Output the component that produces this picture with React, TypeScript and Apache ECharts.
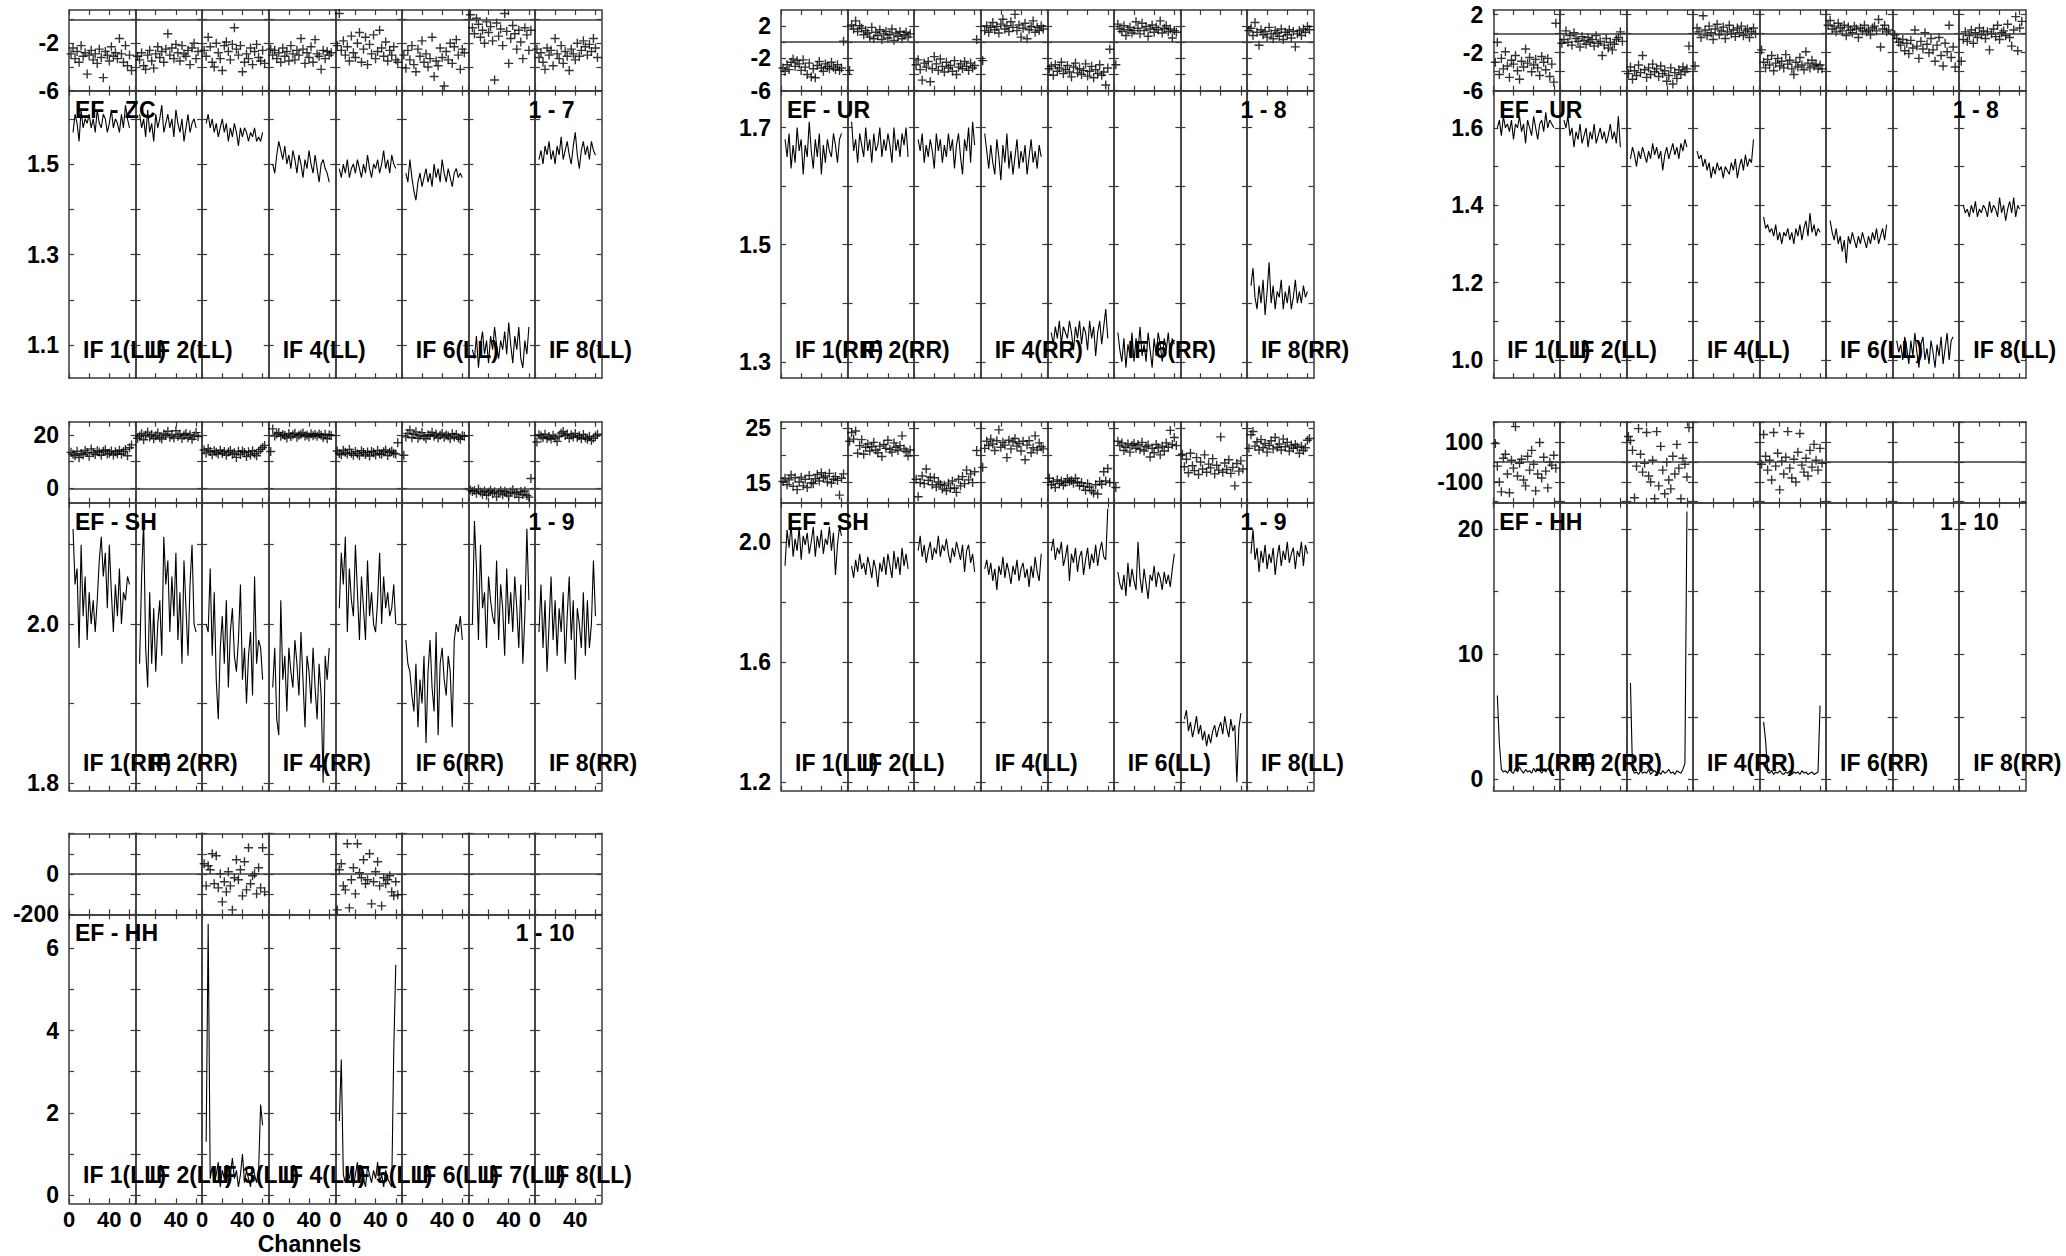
import React, { useEffect, useRef } from "react";
import * as echarts from "echarts";

// ---------------- channels & ticks ----------------
const ampChannels = [4, 6, 8, 10, 12, 14, 16, 18, 20, 22, 24, 26, 28, 30, 32, 34, 36, 38, 40, 42, 44, 46, 48, 50, 52, 54, 56, 58, 60];
const phaseChannels = [2, 4, 6, 8, 10, 12, 14, 16, 18, 20, 22, 24, 26, 28, 30, 32, 34, 36, 38, 40, 42, 44, 46, 48, 50, 52, 54, 56, 58, 60, 62];
const channelTicks = [0, 20, 40, 60];
const channelLabels = [0, 40];

const zcAmpTicks = [1.1, 1.2, 1.3, 1.4, 1.5, 1.6];
const zcAmpLabels = [1.1, 1.3, 1.5];
const zcPhaseTicks = [-6, -4, -2, 0];
const zcPhaseLabels = [-6, -2];
const urAAmpTicks = [1.3, 1.4, 1.5, 1.6, 1.7];
const urAAmpLabels = [1.3, 1.5, 1.7];
const urPhaseTicks = [-6, -4, -2, 0, 2];
const urPhaseLabels = [-6, -2, 2];
const urBAmpTicks = [1.0, 1.1, 1.2, 1.3, 1.4, 1.5, 1.6];
const urBAmpLabels = [1.0, 1.2, 1.4, 1.6];
const shAAmpTicks = [1.8, 1.9, 2.0, 2.1];
const shAAmpLabels = [1.8, 2.0];
const shAPhaseTicks = [0, 10, 20];
const shAPhaseLabels = [0, 20];
const shBAmpTicks = [1.2, 1.4, 1.6, 1.8, 2.0];
const shBAmpLabels = [1.2, 1.6, 2.0];
const shBPhaseTicks = [15, 20, 25];
const shBPhaseLabels = [15, 25];
const hhAAmpTicks = [0, 5, 10, 15, 20];
const hhAAmpLabels = [0, 10, 20];
const hhPhaseTicks = [-200, -100, 0, 100, 200];
const hhAPhaseLabels = [-100, 100];
const hhBPhaseLabels = [-200, 0];
const hhBAmpTicks = [0, 1, 2, 3, 4, 5, 6];
const hhBAmpLabels = [0, 2, 4, 6];

// ---------------- EF - ZC (1 - 7), LL ----------------
const zcAmp = [
  [1.57, 1.61, 1.59, 1.55, 1.62, 1.58, 1.60, 1.59, 1.61, 1.58, 1.60, 1.57, 1.62, 1.59, 1.58, 1.61, 1.60, 1.57, 1.59, 1.62, 1.58, 1.60, 1.59, 1.57, 1.61, 1.58, 1.63, 1.60, 1.58],
  [1.61, 1.58, 1.60, 1.56, 1.62, 1.57, 1.59, 1.55, 1.61, 1.58, 1.60, 1.63, 1.57, 1.59, 1.61, 1.58, 1.60, 1.56, 1.62, 1.59, 1.57, 1.60, 1.55, 1.58, 1.61, 1.57, 1.59, 1.60, 1.58],
  [1.59, 1.61, 1.58, 1.60, 1.57, 1.59, 1.56, 1.58, 1.60, 1.57, 1.59, 1.55, 1.58, 1.56, 1.59, 1.57, 1.54, 1.58, 1.56, 1.58, 1.57, 1.55, 1.57, 1.56, 1.58, 1.55, 1.56, 1.55, 1.57],
  [1.50, 1.48, 1.52, 1.55, 1.53, 1.51, 1.54, 1.50, 1.52, 1.49, 1.53, 1.51, 1.48, 1.52, 1.50, 1.47, 1.51, 1.49, 1.53, 1.50, 1.48, 1.52, 1.49, 1.46, 1.50, 1.51, 1.49, 1.48, 1.46],
  [1.49, 1.47, 1.50, 1.48, 1.51, 1.47, 1.49, 1.50, 1.48, 1.51, 1.49, 1.47, 1.50, 1.48, 1.52, 1.49, 1.47, 1.50, 1.49, 1.51, 1.48, 1.50, 1.53, 1.49, 1.51, 1.48, 1.52, 1.50, 1.49],
  [1.48, 1.46, 1.51, 1.47, 1.44, 1.42, 1.46, 1.48, 1.45, 1.47, 1.49, 1.46, 1.48, 1.45, 1.50, 1.47, 1.49, 1.46, 1.51, 1.48, 1.46, 1.49, 1.47, 1.45, 1.48, 1.49, 1.47, 1.48, 1.47],
  [1.09, 1.07, 1.12, 1.05, 1.10, 1.13, 1.08, 1.11, 1.06, 1.12, 1.09, 1.14, 1.10, 1.07, 1.11, 1.09, 1.13, 1.08, 1.15, 1.10, 1.06, 1.12, 1.09, 1.14, 1.07, 1.05, 1.11, 1.08, 1.14],
  [1.51, 1.53, 1.50, 1.54, 1.52, 1.55, 1.51, 1.53, 1.50, 1.54, 1.52, 1.56, 1.51, 1.53, 1.55, 1.52, 1.50, 1.54, 1.57, 1.52, 1.49, 1.53, 1.55, 1.52, 1.54, 1.51, 1.55, 1.53, 1.52],
];
const zcPhase = [
  [-2.9, -2.4, -3.3, -2.7, -3.6, -2.2, -3.1, -2.8, -4.6, -3.0, -2.6, -3.4, -2.9, -3.7, -2.5, -3.2, -4.9, -2.7, -3.0, -3.5, -2.3, -3.1, -2.8, -3.3, -1.6, -2.9, -3.6, -2.2, -3.9, -3.0, -4.3],
  [-3.1, -3.4, -2.8, -3.9, -4.2, -3.0, -2.6, -3.5, -4.1, -2.9, -2.3, -3.2, -2.7, -3.6, -2.5, -1.2, -3.0, -2.4, -3.3, -2.1, -2.8, -3.5, -2.2, -2.9, -3.1, -2.6, -3.8, -2.4, -2.0, -3.3, -2.7],
  [-2.6, -3.1, -1.5, -2.3, -3.6, -4.0, -2.0, -2.8, -3.3, -4.3, -2.2, -1.9, -2.7, -3.4, -2.1, -0.7, -2.5, -3.0, -2.2, -4.4, -3.6, -2.9, -3.3, -2.4, -3.8, -2.7, -2.1, -3.2, -3.5, -2.6, -3.7],
  [-2.5, -3.0, -2.6, -3.3, -2.8, -3.6, -2.4, -3.1, -2.7, -3.5, -2.2, -2.9, -3.4, -2.6, -3.0, -1.6, -2.5, -3.7, -2.8, -3.2, -2.3, -3.6, -1.7, -2.9, -3.1, -4.2, -2.6, -3.3, -2.7, -3.0, -2.8],
  [-2.2, 0.5, -2.6, -1.8, -3.0, -2.3, -3.5, -1.4, -2.8, -3.2, -2.0, -1.1, -3.6, -2.5, -1.5, -3.8, -2.1, -2.9, -1.3, -3.3, -2.7, -0.9, -2.4, -3.1, -1.9, -3.5, -2.6, -3.0, -2.3, -3.4, -3.6],
  [-3.0, -4.1, -2.6, -3.4, -2.2, -3.8, -4.4, -2.5, -3.1, -1.8, -3.6, -2.9, -4.0, -3.3, -1.5, -4.8, -3.5, -3.9, -2.4, -3.2, -5.6, -2.7, -3.4, -2.0, -3.7, -2.3, -1.7, -3.0, -4.2, -2.5, -2.8],
  [0.4, -0.7, -1.2, 0.1, -0.4, -1.5, -0.9, -2.0, -0.2, -1.1, -0.6, -1.8, -5.1, -0.3, -1.4, -0.8, -2.2, 0.5, -1.0, -3.7, -1.6, -0.5, -1.2, -2.5, -0.9, -1.9, -3.3, -0.7, -1.3, -2.6, -0.9],
  [-2.5, -3.2, -2.8, -3.6, -4.2, -2.4, -3.0, -2.6, -3.9, -1.6, -2.9, -3.3, -2.2, -3.7, -2.7, -3.1, -4.3, -2.5, -2.9, -3.4, -2.0, -3.1, -2.6, -1.8, -2.3, -3.0, -2.1, -2.7, -1.6, -2.4, -3.2],
];

// ---------------- EF - UR (1 - 8), RR ----------------
const urAAmp = [
  [1.68, 1.65, 1.69, 1.63, 1.67, 1.64, 1.70, 1.66, 1.68, 1.62, 1.67, 1.65, 1.71, 1.66, 1.63, 1.68, 1.65, 1.69, 1.62, 1.67, 1.64, 1.68, 1.66, 1.65, 1.69, 1.67, 1.64, 1.68, 1.69],
  [1.71, 1.66, 1.68, 1.64, 1.69, 1.67, 1.65, 1.70, 1.66, 1.68, 1.64, 1.69, 1.66, 1.67, 1.70, 1.65, 1.68, 1.66, 1.69, 1.67, 1.64, 1.70, 1.66, 1.68, 1.65, 1.69, 1.67, 1.70, 1.65],
  [1.68, 1.66, 1.69, 1.64, 1.67, 1.65, 1.68, 1.66, 1.63, 1.69, 1.66, 1.68, 1.64, 1.67, 1.65, 1.69, 1.66, 1.68, 1.63, 1.67, 1.69, 1.65, 1.62, 1.68, 1.66, 1.70, 1.64, 1.71, 1.67],
  [1.69, 1.66, 1.63, 1.67, 1.64, 1.62, 1.68, 1.65, 1.61, 1.67, 1.64, 1.69, 1.63, 1.66, 1.62, 1.65, 1.68, 1.63, 1.66, 1.64, 1.67, 1.62, 1.65, 1.68, 1.64, 1.66, 1.63, 1.67, 1.65],
  [1.35, 1.33, 1.36, 1.34, 1.37, 1.33, 1.36, 1.35, 1.34, 1.37, 1.35, 1.32, 1.36, 1.34, 1.37, 1.33, 1.36, 1.35, 1.32, 1.37, 1.34, 1.36, 1.31, 1.35, 1.37, 1.33, 1.36, 1.39, 1.34],
  [1.35, 1.32, 1.30, 1.34, 1.29, 1.33, 1.31, 1.35, 1.30, 1.34, 1.32, 1.36, 1.31, 1.33, 1.30, 1.35, 1.32, 1.29, 1.34, 1.31, 1.35, 1.33, 1.30, 1.34, 1.32, 1.35, 1.31, 1.34, 1.33],
  [],
  [1.43, 1.46, 1.41, 1.39, 1.43, 1.40, 1.44, 1.38, 1.42, 1.47, 1.40, 1.43, 1.39, 1.42, 1.41, 1.44, 1.39, 1.42, 1.40, 1.43, 1.39, 1.41, 1.44, 1.40, 1.42, 1.40, 1.43, 1.41, 1.42],
];
const urAPhase = [
  [-3.2, -3.6, -2.8, -3.4, -2.5, -2.1, -3.0, -2.3, -2.7, -3.5, -2.2, -3.1, -4.0, -2.6, -4.3, -3.3, -4.4, -2.9, -2.4, -3.2, -3.6, -2.7, -3.0, -3.3, -2.5, -3.1, -3.4, -2.8, -3.5, -3.2, 0.1],
  [-3.5, 2.1, 1.6, 2.6, 1.3, 2.0, 1.7, 0.9, 1.4, 1.1, 0.6, 1.8, 0.4, 1.2, 0.8, 1.5, 0.3, 1.0, 1.3, 0.5, 0.9, 1.6, 0.2, 1.1, 0.7, 1.3, 0.4, 0.9, 1.2, 0.6, 1.0],
  [-2.8, -2.2, -3.4, -4.7, -2.6, -3.1, -2.4, -4.9, -3.3, -1.8, -2.7, -3.5, -2.1, -3.0, -3.7, -2.5, -3.2, -2.9, -3.6, -2.3, -4.0, -3.1, -2.7, -3.3, -2.4, -3.0, -3.5, -2.6, -3.2, -2.9, 0.3],
  [-2.3, 1.4, 2.0, 1.2, 1.8, 2.4, 1.5, 1.9, 1.1, 2.2, 2.8, 1.6, 2.0, 1.3, 2.5, 1.8, 3.4, 1.4, 2.1, 0.6, 1.7, 2.3, 0.4, 1.5, 1.9, 2.6, 1.2, 1.8, 1.4, 2.0, 1.6],
  [-3.3, -3.0, -4.1, -2.8, -3.6, -3.2, -2.5, -3.9, -3.4, -2.9, -3.7, -4.3, -3.1, -2.6, -3.8, -3.3, -4.0, -3.5, -2.7, -4.2, -3.6, -3.0, -4.4, -3.4, -3.9, -2.8, -4.1, -3.7, -5.3, -3.2, -0.9],
  [-2.8, 2.2, 1.6, 1.3, 2.0, 0.8, 1.5, 1.8, 1.1, 1.4, 2.5, 1.7, 1.0, 2.3, 1.4, 1.9, 0.7, 1.6, 2.1, 1.2, 1.8, 1.5, 2.6, 1.1, 1.7, 2.0, 1.3, 1.6, 0.5, 1.4, 1.2],
  [],
  [1.4, 1.7, 0.8, 2.4, 1.2, -0.4, 1.5, 0.9, 1.3, 0.6, 1.8, 1.0, 0.4, 1.4, 1.1, 0.7, 1.6, 0.3, 1.2, 0.9, 1.5, 0.5, 1.3, -0.6, 1.0, 1.4, 0.8, 1.6, 1.2, 1.9, 1.5],
];

// ---------------- EF - UR (1 - 8), LL ----------------
const urBAmp = [
  [1.60, 1.62, 1.58, 1.63, 1.60, 1.61, 1.59, 1.62, 1.57, 1.61, 1.60, 1.63, 1.59, 1.61, 1.56, 1.62, 1.60, 1.58, 1.63, 1.60, 1.57, 1.61, 1.62, 1.59, 1.64, 1.60, 1.62, 1.61, 1.60],
  [1.62, 1.60, 1.63, 1.58, 1.60, 1.55, 1.59, 1.57, 1.61, 1.56, 1.58, 1.60, 1.55, 1.59, 1.57, 1.61, 1.56, 1.58, 1.60, 1.57, 1.59, 1.56, 1.58, 1.61, 1.57, 1.59, 1.56, 1.63, 1.55],
  [1.52, 1.55, 1.53, 1.50, 1.54, 1.52, 1.55, 1.53, 1.51, 1.54, 1.52, 1.56, 1.53, 1.55, 1.52, 1.54, 1.49, 1.53, 1.55, 1.52, 1.54, 1.56, 1.53, 1.55, 1.52, 1.56, 1.54, 1.57, 1.55],
  [1.54, 1.52, 1.53, 1.50, 1.52, 1.49, 1.51, 1.47, 1.50, 1.48, 1.51, 1.49, 1.50, 1.47, 1.50, 1.49, 1.48, 1.51, 1.49, 1.52, 1.47, 1.50, 1.52, 1.49, 1.53, 1.50, 1.52, 1.51, 1.57],
  [1.37, 1.34, 1.35, 1.33, 1.34, 1.32, 1.35, 1.31, 1.33, 1.30, 1.33, 1.32, 1.34, 1.31, 1.33, 1.30, 1.34, 1.32, 1.35, 1.31, 1.34, 1.36, 1.32, 1.38, 1.33, 1.35, 1.32, 1.34, 1.33],
  [1.36, 1.33, 1.31, 1.34, 1.30, 1.32, 1.28, 1.31, 1.25, 1.32, 1.30, 1.33, 1.31, 1.29, 1.32, 1.30, 1.33, 1.31, 1.29, 1.32, 1.30, 1.33, 1.31, 1.34, 1.30, 1.32, 1.34, 1.31, 1.35],
  [1.05, 1.02, 1.04, 1.00, 1.06, 1.03, 0.99, 1.05, 1.01, 1.07, 1.02, 0.98, 1.04, 1.06, 1.00, 1.03, 0.99, 1.05, 1.02, 0.98, 1.04, 1.01, 1.06, 0.99, 1.03, 1.07, 1.00, 1.05, 1.06],
  [1.40, 1.38, 1.39, 1.37, 1.40, 1.38, 1.41, 1.37, 1.39, 1.38, 1.40, 1.39, 1.37, 1.41, 1.38, 1.40, 1.39, 1.37, 1.42, 1.38, 1.40, 1.36, 1.39, 1.41, 1.38, 1.42, 1.37, 1.40, 1.39],
];
const urBPhase = [
  [-3.0, -0.9, -4.3, -2.6, -3.7, -1.9, -3.4, -4.6, -2.8, -3.2, -2.3, -3.9, -4.8, -2.9, -3.5, -1.6, -3.1, -2.5, -4.0, -3.3, -2.7, -3.6, -4.4, -2.4, -3.0, -3.8, -2.6, -4.5, -3.2, -5.1, 1.1],
  [-1.0, -0.6, 0.3, -0.9, -0.2, -1.2, 0.1, -0.5, -0.8, -1.4, -0.3, -0.7, -1.1, -0.4, -0.9, -0.6, -1.3, -0.2, -1.0, -0.8, -2.3, -1.2, -0.5, -1.5, -0.9, -1.7, -1.1, -0.6, -0.4, 0.2, -0.8],
  [-4.2, -3.5, -4.8, -3.9, -4.4, -3.3, -4.1, -2.3, -3.8, -4.6, -3.6, -4.3, -3.2, -4.0, -3.7, -4.5, -3.4, -4.2, -3.9, -5.0, -4.4, -3.6, -5.3, -4.1, -4.7, -3.8, -4.3, -3.5, -4.0, -3.7, -1.3],
  [-3.4, 0.6, 0.2, -0.4, 1.9, 0.4, -0.2, 0.8, 0.1, -0.6, 0.5, 1.0, -0.1, 0.3, 0.7, -0.5, 0.2, 0.9, 0.0, 0.4, -0.3, 0.6, 0.1, 0.8, -0.2, 0.3, 0.5, -0.4, 0.2, 0.6, 0.0],
  [-1.7, -3.0, -3.6, -2.7, -3.3, -2.3, -3.9, -3.1, -2.6, -3.4, -2.9, -3.6, -2.2, -3.2, -2.8, -3.7, -4.3, -3.0, -3.5, -2.5, -3.3, -3.8, -1.9, -3.1, -3.6, -2.8, -3.4, -3.2, -3.7, -3.3, -3.7],
  [0.9, 1.4, 0.5, 0.8, 0.2, 1.1, 0.6, 0.3, 0.9, -0.2, 0.7, 0.4, 0.1, 0.8, 0.5, -0.4, 0.6, 0.3, 0.9, 0.2, 0.4, -0.1, 0.6, 0.8, 0.3, 1.5, -1.4, 0.5, 0.9, 0.2, 0.4],
  [-0.1, -0.5, -0.9, -1.2, -0.6, -1.8, -1.0, -2.1, -0.7, -1.5, 0.4, -1.3, -2.6, -0.8, -1.6, 0.1, -1.1, -2.0, -0.5, -1.7, -2.9, -1.2, -0.4, -2.3, -3.4, -1.0, -1.9, 0.9, -2.5, -1.4, -3.5],
  [-2.9, -0.6, 0.2, -0.8, -0.2, 0.4, -1.0, 0.1, -0.4, 0.6, -0.1, 0.3, -0.5, 0.2, -1.7, 0.0, 0.5, -0.3, 0.9, -0.6, 0.1, 0.3, -0.2, 1.0, -0.4, -1.3, 0.4, 1.8, -1.8, 0.6, 1.3],
];

// ---------------- EF - SH (1 - 9), RR ----------------
const shAAmp = [
  [2.12, 2.05, 2.07, 1.97, 2.10, 2.01, 2.06, 1.98, 2.04, 2.00, 2.03, 1.99, 2.03, 2.08, 2.11, 2.06, 2.09, 2.02, 2.10, 2.04, 1.99, 2.05, 2.01, 2.07, 2.00, 2.04, 2.03, 2.06, 2.05],
  [1.95, 2.06, 2.13, 1.97, 1.92, 2.04, 1.95, 2.02, 1.94, 2.00, 2.03, 1.96, 2.11, 2.05, 2.08, 1.99, 2.06, 2.01, 2.09, 1.98, 2.04, 1.95, 2.08, 2.02, 1.96, 2.05, 2.10, 2.00, 1.99],
  [2.00, 1.99, 2.07, 1.96, 2.04, 1.93, 1.88, 1.97, 2.01, 1.95, 2.03, 1.92, 1.99, 2.02, 1.96, 1.94, 1.98, 2.05, 1.93, 1.97, 1.90, 1.96, 1.99, 1.91, 2.06, 1.95, 1.98, 1.97, 1.93],
  [1.92, 1.97, 1.88, 1.86, 2.03, 1.93, 1.96, 1.89, 1.97, 1.94, 1.92, 1.98, 1.95, 1.91, 1.99, 1.93, 1.87, 1.96, 1.94, 1.90, 1.97, 1.92, 1.88, 1.95, 1.91, 1.80, 1.96, 1.93, 1.97],
  [2.02, 2.09, 2.05, 2.11, 1.99, 2.07, 2.03, 2.01, 2.10, 2.04, 1.98, 2.06, 2.02, 1.98, 2.08, 2.01, 2.04, 2.00, 1.99, 2.03, 2.09, 2.00, 2.06, 2.02, 2.04, 2.01, 2.02, 2.05, 2.00],
  [1.98, 1.95, 1.94, 1.91, 1.89, 1.95, 1.87, 1.93, 1.90, 1.96, 1.85, 1.94, 1.98, 1.92, 1.89, 1.99, 1.86, 1.95, 1.97, 1.93, 1.91, 1.96, 1.94, 1.87, 1.98, 2.00, 1.99, 2.01, 1.98],
  [2.00, 2.13, 2.07, 1.98, 2.10, 2.02, 2.04, 1.97, 2.06, 2.03, 2.01, 2.00, 2.08, 1.98, 2.05, 2.02, 1.96, 2.07, 2.00, 2.04, 1.99, 2.06, 2.02, 1.97, 2.05, 1.95, 2.01, 2.12, 2.03],
  [1.99, 2.05, 1.97, 2.03, 1.94, 2.00, 2.06, 1.98, 2.03, 1.96, 2.02, 1.99, 2.04, 1.95, 2.01, 2.06, 1.98, 2.03, 1.93, 2.02, 2.00, 1.97, 2.04, 1.96, 2.03, 1.97, 2.00, 2.08, 2.01],
];
const shAPhase = [
  [13.5, 12.8, 12.2, 13.9, 11.5, 13.1, 12.6, 14.2, 13.4, 12.0, 14.8, 13.3, 12.7, 14.1, 13.6, 12.4, 13.9, 14.5, 12.9, 13.2, 14.0, 12.5, 13.7, 13.0, 14.3, 12.8, 13.8, 14.6, 12.2, 15.2, 16.3],
  [18.8, 19.6, 20.5, 18.2, 19.9, 21.1, 19.3, 20.2, 18.6, 19.7, 20.8, 19.1, 18.5, 20.4, 19.8, 21.4, 19.2, 20.0, 18.9, 21.6, 19.5, 20.3, 18.7, 19.9, 20.6, 19.0, 20.1, 18.4, 19.6, 20.9, 19.4],
  [14.4, 13.2, 14.9, 13.8, 12.6, 14.1, 13.5, 12.9, 14.3, 13.1, 13.8, 12.4, 13.6, 14.2, 12.8, 13.3, 11.6, 13.9, 12.7, 14.0, 13.4, 11.9, 13.7, 12.5, 14.1, 13.0, 12.2, 13.8, 14.6, 15.3, 16.1],
  [13.8, 22.3, 19.6, 20.4, 20.9, 19.5, 20.2, 19.8, 18.9, 20.6, 19.4, 20.1, 20.7, 19.2, 19.9, 20.3, 20.8, 19.6, 20.0, 19.3, 20.5, 19.7, 20.2, 19.5, 20.4, 19.9, 19.1, 20.3, 18.6, 20.1, 19.8],
  [14.0, 13.1, 12.6, 14.3, 13.5, 12.9, 14.6, 13.2, 12.4, 13.8, 13.0, 12.2, 14.1, 13.4, 12.7, 13.6, 12.1, 13.9, 13.3, 12.5, 14.2, 13.0, 12.8, 13.7, 14.4, 12.3, 13.5, 14.0, 13.2, 12.9, 17.1],
  [12.4, 19.3, 20.6, 21.9, 19.0, 20.3, 21.2, 18.8, 19.7, 20.9, 19.4, 18.6, 20.1, 19.8, 21.0, 19.5, 20.4, 18.9, 19.9, 20.7, 19.2, 20.0, 19.6, 18.7, 20.5, 19.3, 20.2, 19.0, 18.4, 19.7, 19.5],
  [-0.6, -1.2, -0.8, -1.9, -0.3, -1.4, -2.2, -1.0, -2.6, -1.5, -0.7, -2.0, -1.3, -3.2, -1.7, -0.9, -2.4, -1.1, -1.8, -2.9, -1.4, -0.5, -2.1, -1.6, -3.4, -1.2, -2.3, -1.0, -2.7, -3.3, 3.7],
  [17.4, 20.1, 19.6, 19.0, 20.3, 18.7, 19.4, 18.5, 19.9, 18.9, 17.6, 19.5, 20.7, 21.3, 19.8, 20.4, 18.8, 20.0, 19.3, 20.6, 19.1, 19.7, 18.6, 20.2, 19.0, 18.4, 19.5, 17.9, 18.8, 19.6, 20.3],
];

// ---------------- EF - SH (1 - 9), LL ----------------
const shBAmp = [
  [1.92, 2.04, 1.98, 2.06, 1.95, 2.01, 1.97, 2.05, 1.94, 2.02, 1.99, 2.03, 1.96, 2.00, 2.05, 1.95, 2.02, 1.98, 2.04, 1.96, 2.01, 1.99, 2.05, 1.97, 2.03, 1.89, 1.99, 2.05, 2.02],
  [1.92, 1.88, 1.94, 1.90, 1.96, 1.91, 1.93, 1.89, 1.95, 1.92, 1.88, 1.94, 1.91, 1.85, 1.93, 1.90, 1.95, 1.89, 1.96, 1.92, 1.88, 1.97, 1.91, 1.95, 1.89, 1.98, 1.92, 1.96, 1.91],
  [1.97, 2.02, 1.95, 1.99, 1.93, 1.97, 2.00, 1.94, 1.98, 1.96, 2.02, 1.95, 1.99, 1.97, 2.01, 1.96, 1.93, 1.98, 1.95, 2.00, 1.97, 1.94, 1.99, 1.90, 1.97, 1.99, 1.93, 1.96, 1.90],
  [1.91, 1.94, 1.89, 1.93, 1.87, 1.91, 1.84, 1.92, 1.89, 1.95, 1.88, 1.93, 1.90, 1.86, 1.92, 1.89, 1.94, 1.87, 1.91, 1.93, 1.88, 1.91, 1.85, 1.92, 1.88, 1.95, 1.90, 1.87, 1.96],
  [1.97, 2.01, 1.94, 1.98, 1.96, 2.00, 1.92, 1.95, 1.99, 1.87, 1.96, 1.93, 1.98, 1.90, 1.95, 1.97, 1.89, 1.94, 1.98, 1.91, 1.96, 1.93, 1.99, 1.92, 1.97, 2.00, 1.95, 1.94, 2.11],
  [1.90, 1.86, 1.84, 1.89, 1.82, 1.93, 1.85, 1.91, 1.87, 1.84, 2.00, 1.88, 1.83, 1.91, 1.86, 1.81, 1.89, 1.87, 1.92, 1.85, 1.90, 1.88, 1.84, 1.90, 1.86, 1.89, 1.85, 1.91, 1.96],
  [1.41, 1.44, 1.37, 1.40, 1.35, 1.38, 1.42, 1.36, 1.39, 1.34, 1.37, 1.32, 1.36, 1.33, 1.37, 1.39, 1.35, 1.38, 1.40, 1.36, 1.42, 1.38, 1.35, 1.41, 1.37, 1.39, 1.20, 1.38, 1.43],
  [1.96, 2.04, 1.94, 1.98, 1.90, 1.97, 1.93, 1.99, 1.91, 1.96, 1.93, 1.98, 1.89, 1.95, 1.99, 1.92, 1.97, 1.94, 2.00, 1.93, 1.96, 1.98, 1.91, 1.97, 1.95, 2.00, 1.92, 1.99, 1.96],
];
const shBPhase = [
  [15.2, 15.8, 14.6, 15.5, 16.4, 14.3, 15.9, 13.7, 15.1, 16.0, 14.4, 15.6, 14.1, 16.3, 15.0, 14.8, 15.7, 16.5, 15.3, 16.8, 15.9, 16.2, 15.1, 16.7, 14.9, 15.6, 16.1, 15.4, 12.7, 15.8, 16.6],
  [22.6, 24.2, 23.0, 24.5, 20.4, 21.8, 22.9, 20.2, 21.5, 22.1, 20.8, 21.6, 22.4, 21.0, 20.5, 21.7, 19.8, 22.0, 21.3, 22.8, 21.1, 20.6, 22.3, 21.5, 20.9, 21.8, 23.6, 21.2, 20.7, 19.9, 21.0],
  [15.6, 12.4, 15.0, 16.2, 14.8, 17.5, 15.4, 16.0, 14.6, 15.9, 14.2, 15.1, 14.7, 13.8, 14.5, 13.5, 14.9, 13.9, 15.3, 14.0, 13.2, 15.6, 14.4, 16.1, 14.8, 17.3, 15.5, 16.6, 15.0, 17.0, 20.9],
  [17.8, 21.3, 22.6, 21.8, 23.0, 22.1, 20.9, 22.7, 24.7, 21.5, 22.4, 21.9, 19.6, 22.8, 21.2, 22.5, 23.1, 21.7, 22.2, 20.8, 22.6, 19.2, 21.9, 22.7, 20.5, 21.4, 23.6, 21.0, 22.3, 21.6, 21.2],
  [15.8, 14.6, 15.2, 14.1, 15.5, 14.8, 15.3, 14.5, 15.0, 15.7, 15.2, 15.4, 14.9, 15.8, 15.1, 14.4, 15.0, 14.3, 13.6, 14.8, 14.2, 13.5, 13.1, 14.6, 12.9, 15.2, 14.7, 17.0, 15.3, 17.6, 15.0],
  [14.1, 22.6, 21.8, 22.3, 20.9, 21.5, 22.1, 20.6, 21.8, 22.2, 21.3, 22.0, 21.1, 22.4, 20.8, 21.6, 21.9, 19.7, 21.3, 20.5, 22.0, 21.4, 20.1, 21.7, 20.8, 22.3, 21.5, 24.6, 22.0, 23.3, 21.8],
  [20.2, 17.9, 19.3, 16.8, 20.4, 18.1, 17.2, 19.6, 16.5, 18.8, 17.5, 20.1, 16.9, 18.4, 17.7, 19.4, 16.6, 18.2, 17.3, 23.4, 16.9, 18.6, 17.4, 19.2, 16.7, 17.8, 14.4, 18.5, 17.1, 19.0, 17.5],
  [21.3, 23.8, 24.4, 21.7, 22.5, 21.0, 22.9, 21.4, 22.2, 20.6, 21.8, 22.7, 21.2, 23.3, 21.5, 22.1, 21.0, 23.0, 21.6, 22.4, 20.8, 21.9, 21.3, 22.0, 21.5, 20.4, 21.7, 20.9, 21.4, 22.8, 23.1],
];

// ---------------- EF - HH (1 - 10), RR ----------------
const hhAAmp = [
  [6.7, 2.9, 0.8, 0.6, 0.7, 0.5, 0.8, 0.6, 0.5, 0.9, 0.6, 1.0, 0.7, 0.5, 0.8, 0.6, 0.7, 0.5, 0.9, 0.6, 0.8, 0.7, 0.5, 0.8, 0.6, 0.9, 0.7, 0.5, 0.8],
  [],
  [7.7, 0.8, 0.5, 0.6, 0.4, 0.7, 0.5, 0.6, 0.5, 0.8, 0.4, 0.6, 0.7, 0.5, 0.6, 0.4, 0.7, 0.5, 0.6, 0.8, 0.5, 0.6, 0.4, 0.7, 0.6, 0.5, 0.8, 1.3, 21.4],
  [],
  [4.6, 3.1, 0.6, 0.5, 0.7, 0.4, 0.6, 0.5, 0.7, 0.5, 0.4, 0.6, 0.5, 0.7, 0.4, 0.6, 0.5, 0.6, 0.4, 0.7, 0.5, 0.6, 0.4, 0.5, 0.6, 0.4, 0.5, 0.6, 5.9],
  [],
  [],
  [],
];
const hhAPhase = [
  [95, -20, -100, -150, 20, 40, -60, -155, 10, -30, 180, -70, -5, 15, -90, -120, 30, -40, 60, -10, -145, -60, 100, -80, 25, -45, -130, 0, -15, 35, -30],
  [],
  [130, 110, 60, -180, -20, 170, 40, -50, -5, 150, -70, -100, 10, -185, 155, -120, 80, -40, -160, 0, -90, -135, 30, -60, 90, -30, -185, 20, -10, -75, 175],
  [],
  [-10, 140, 30, -40, 10, -90, 150, -20, 45, -140, 5, -60, 25, 155, -30, -80, 15, -100, 50, 145, -15, -50, 20, -70, 60, -25, 90, 10, -40, 70, -5],
  [],
  [],
  [],
];

// ---------------- EF - HH (1 - 10), LL ----------------
const hhBAmp = [
  [],
  [],
  [1.3, 6.6, 0.4, 0.7, 0.3, 0.5, 0.8, 0.2, 0.6, 0.4, 0.7, 0.3, 0.5, 0.9, 0.4, 0.6, 0.2, 0.5, 1.0, 0.3, 0.6, 0.4, 0.2, 0.7, 0.5, 0.3, 0.6, 2.2, 1.7],
  [],
  [1.8, 3.3, 0.5, 0.3, 0.6, 0.4, 0.7, 0.2, 0.5, 0.8, 0.3, 0.6, 0.4, 0.2, 0.7, 0.5, 0.3, 0.6, 0.4, 0.8, 0.3, 0.5, 0.2, 0.6, 0.4, 0.3, 0.2, 3.5, 5.6],
  [],
  [],
  [],
];
const hhBPhase = [
  [],
  [],
  [50, -60, 40, 20, 100, -50, 90, -70, 0, -140, -40, -90, 10, -60, -180, -20, 70, -30, 20, -110, 60, -80, 130, -50, -10, 0, -100, 30, -70, 130, -90],
  [],
  [-180, 20, 50, -60, -80, 150, -170, -30, 30, -100, 150, 5, -20, 70, -50, -30, 100, -150, -40, 10, 60, -60, -160, -20, -50, -30, -10, -90, -110, -40, -105],
  [],
  [],
  [],
];

// ---------------- layout ----------------
const FONT = '"Liberation Sans", Arial, Helvetica, sans-serif';
const COL_LEFT = [69, 781, 1493.3];
const PANEL_W = 532.5;
const ROWS = [
  { top: 10, ph: 80.7, ah: 287.5 },
  { top: 421.7, ph: 81, ah: 288 },
  { top: 833.3, ph: 81, ah: 289 },
];

const panels = [
  { col: 0, row: 0, baseline: "EF - ZC", scan: "1 - 7", pol: "LL", shown: [1, 2, 4, 6, 8], amp: zcAmp, phase: zcPhase,
    aMin: 1.027, aMax: 1.662, aTicks: zcAmpTicks, aLabels: zcAmpLabels, aDec: 1,
    pMin: -6, pMax: 0.8, pTicks: zcPhaseTicks, pLabels: zcPhaseLabels, xLabels: false },
  { col: 1, row: 0, baseline: "EF - UR", scan: "1 - 8", pol: "RR", shown: [1, 2, 4, 6, 8], amp: urAAmp, phase: urAPhase,
    aMin: 1.272, aMax: 1.763, aTicks: urAAmpTicks, aLabels: urAAmpLabels, aDec: 1,
    pMin: -6, pMax: 3.94, pTicks: urPhaseTicks, pLabels: urPhaseLabels, xLabels: false },
  { col: 2, row: 0, baseline: "EF - UR", scan: "1 - 8", pol: "LL", shown: [1, 2, 4, 6, 8], amp: urBAmp, phase: urBPhase,
    aMin: 0.953, aMax: 1.696, aTicks: urBAmpTicks, aLabels: urBAmpLabels, aDec: 1,
    pMin: -6, pMax: 2.5, pTicks: urPhaseTicks, pLabels: urPhaseLabels, xLabels: false },
  { col: 0, row: 1, baseline: "EF - SH", scan: "1 - 9", pol: "RR", shown: [1, 2, 4, 6, 8], amp: shAAmp, phase: shAPhase,
    aMin: 1.79, aMax: 2.153, aTicks: shAAmpTicks, aLabels: shAAmpLabels, aDec: 1,
    pMin: -5.4, pMax: 25, pTicks: shAPhaseTicks, pLabels: shAPhaseLabels, xLabels: false },
  { col: 1, row: 1, baseline: "EF - SH", scan: "1 - 9", pol: "LL", shown: [1, 2, 4, 6, 8], amp: shBAmp, phase: shBPhase,
    aMin: 1.172, aMax: 2.13, aTicks: shBAmpTicks, aLabels: shBAmpLabels, aDec: 1,
    pMin: 11.3, pMax: 26.2, pTicks: shBPhaseTicks, pLabels: shBPhaseLabels, xLabels: false },
  { col: 2, row: 1, baseline: "EF - HH", scan: "1 - 10", pol: "RR", shown: [1, 2, 4, 6, 8], amp: hhAAmp, phase: hhAPhase,
    aMin: -0.9, aMax: 22.1, aTicks: hhAAmpTicks, aLabels: hhAAmpLabels, aDec: 0,
    pMin: -205, pMax: 205, pTicks: hhPhaseTicks, pLabels: hhAPhaseLabels, xLabels: false },
  { col: 0, row: 2, baseline: "EF - HH", scan: "1 - 10", pol: "LL", shown: [1, 2, 3, 4, 5, 6, 7, 8], amp: hhBAmp, phase: hhBPhase,
    aMin: -0.2, aMax: 6.83, aTicks: hhBAmpTicks, aLabels: hhBAmpLabels, aDec: 0,
    pMin: -202, pMax: 202, pTicks: hhPhaseTicks, pLabels: hhBPhaseLabels, xLabels: true },
];

const CROSS = "path://M0,5L10,5M5,0L5,10";

function buildOption() {
  const grid: any[] = [];
  const xAxis: any[] = [];
  const yAxis: any[] = [];
  const series: any[] = [];
  const graphic: any[] = [];
  const frame = { color: "#3a3a3a", width: 1.5 };
  const tickStyle = { color: "#3a3a3a", width: 1.2 };
  const labelBase = { color: "#000", fontFamily: FONT, fontWeight: "bold" };

  const addCell = (left: number, top: number, width: number, height: number, yMin: number, yMax: number,
    yTicks: number[], yLabels: number[] | null, yDec: number, showX: boolean) => {
    const g = grid.length;
    grid.push({ left, top, width, height, containLabel: false, outerBoundsMode: "none", show: false });
    const xi = xAxis.length;
    const yi = yAxis.length;
    ["bottom", "top"].forEach((pos) => {
      xAxis.push({
        type: "value", gridIndex: g, position: pos, min: 0, max: 66,
        axisLine: { show: true, onZero: false, lineStyle: frame },
        axisTick: { show: true, inside: true, length: 5, lineStyle: tickStyle, customValues: channelTicks },
        axisLabel: pos === "bottom" && showX
          ? { show: true, ...labelBase, fontSize: 22, margin: 5, customValues: channelLabels, formatter: (v: number) => String(v) }
          : { show: false },
        splitLine: { show: false },
      });
    });
    ["left", "right"].forEach((pos) => {
      yAxis.push({
        type: "value", gridIndex: g, position: pos, min: yMin, max: yMax,
        axisLine: { show: true, onZero: false, lineStyle: frame },
        axisTick: { show: true, inside: true, length: 5, lineStyle: tickStyle, customValues: yTicks },
        axisLabel: pos === "left" && yLabels
          ? { show: true, ...labelBase, fontSize: 23, margin: 10, customValues: yLabels, formatter: (v: number) => v.toFixed(yDec) }
          : { show: false },
        splitLine: { show: false },
      });
    });
    return { xi, yi };
  };

  panels.forEach((p) => {
    const L = COL_LEFT[p.col];
    const R = ROWS[p.row];
    const subW = PANEL_W / 8;
    const ampTop = R.top + R.ph;
    const ampBottom = ampTop + R.ah;
    for (let i = 0; i < 8; i++) {
      const left = L + i * subW;
      const ph = addCell(left, R.top, subW, R.ph, p.pMin, p.pMax, p.pTicks, i === 0 ? p.pLabels : null, 0, false);
      const pv = p.phase[i] || [];
      const hasZero = p.pMin < 0 && p.pMax > 0;
      series.push({
        type: "scatter", xAxisIndex: ph.xi, yAxisIndex: ph.yi, silent: true,
        data: pv.map((v: number, k: number) => [phaseChannels[k], v]),
        symbol: CROSS, symbolSize: 9,
        itemStyle: { color: "rgba(0,0,0,0)", borderColor: "#000", borderWidth: 1.4 },
        markLine: hasZero ? {
          silent: true, symbol: ["none", "none"], label: { show: false },
          lineStyle: { color: "#3a3a3a", width: 1.5, type: "solid" },
          data: [{ yAxis: 0 }],
        } : undefined,
      });
      const am = addCell(left, ampTop, subW, R.ah, p.aMin, p.aMax, p.aTicks, i === 0 ? p.aLabels : null, p.aDec, p.xLabels);
      const av = p.amp[i] || [];
      if (av.length) {
        series.push({
          type: "line", xAxisIndex: am.xi, yAxisIndex: am.yi, silent: true,
          data: av.map((v: number, k: number) => [ampChannels[k], v]),
          symbol: "none", showSymbol: false,
          lineStyle: { color: "#000", width: 1.1 },
        });
      }
    }
    const font = `bold 23px ${FONT}`;
    graphic.push({
      type: "text", x: L + 6, y: ampTop + 19, silent: true, z: 100,
      style: { text: p.baseline, font, fill: "#000", textAlign: "left", textVerticalAlign: "middle", align: "left", verticalAlign: "middle" },
    });
    graphic.push({
      type: "text", x: L + PANEL_W - 27, y: ampTop + 19, silent: true, z: 100,
      style: { text: p.scan, font, fill: "#000", textAlign: "right", textVerticalAlign: "middle", align: "right", verticalAlign: "middle" },
    });
    p.shown.forEach((n) => {
      graphic.push({
        type: "text", x: L + (n - 1) * subW + 14, y: ampBottom - 28, silent: true, z: 100,
        style: { text: `IF ${n}(${p.pol})`, font, fill: "#000", textAlign: "left", textVerticalAlign: "middle", align: "left", verticalAlign: "middle" },
      });
    });
  });

  graphic.push({
    type: "text", x: 309.5, y: 1244, silent: true, z: 100,
    style: { text: "Channels", font: `bold 23px ${FONT}`, fill: "#000", textAlign: "center", textVerticalAlign: "middle", align: "center", verticalAlign: "middle" },
  });

  return {
    animation: false,
    backgroundColor: "#ffffff",
    grid, xAxis, yAxis, series, graphic,
  };
}

export default function App() {
  const ref = useRef<HTMLDivElement>(null);
  useEffect(() => {
    if (!ref.current) return;
    const chart = echarts.init(ref.current, undefined, { renderer: "svg" });
    chart.setOption(buildOption() as any);
    return () => chart.dispose();
  }, []);
  return (
    <div
      ref={ref}
      style={{ position: "absolute", left: 0, top: 0, width: 2066, height: 1256, background: "#fff" }}
    />
  );
}
